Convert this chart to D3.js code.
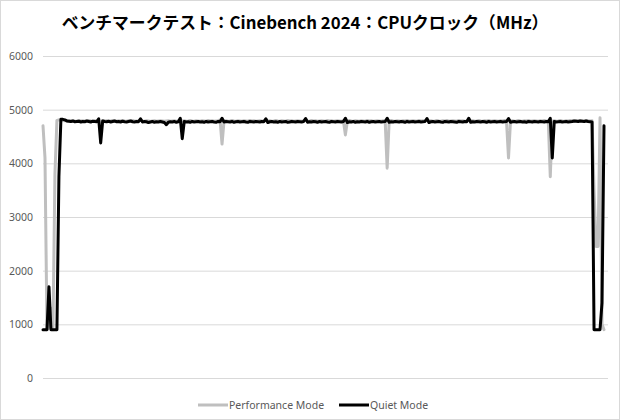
<!DOCTYPE html>
<html><head><meta charset="utf-8">
<script src="https://cdn.jsdelivr.net/npm/d3@7"></script>
<style>
html,body{margin:0;padding:0;background:#fff;}
svg{display:block;}
</style></head>
<body>
<svg id="chart" width="620" height="420"></svg>
<script>
const chartTitle = "ベンチマークテスト：Cinebench 2024：CPUクロック（MHz）";
const seriesNames = ["Performance Mode", "Quiet Mode"];
const yTicks = [0, 1000, 2000, 3000, 4000, 5000, 6000];

const performanceMode = [
4700,4100,900,950,1300,900,3800,4800,4810,4800,
4800,4795,4790,4800,4790,4795,4785,4790,4800,4790,
4795,4790,4785,4800,4790,4785,4795,4790,4810,4600,
4800,4790,4795,4785,4790,4800,4790,4785,4795,4790,
4800,4790,4785,4795,4790,4800,4785,4790,4795,4810,
4790,4785,4795,4790,4780,4790,4795,4785,4790,4795,
4790,4785,4790,4795,4785,4790,4795,4785,4790,4810,
4790,4795,4785,4790,4800,4790,4785,4795,4790,4785,
4795,4790,4785,4800,4790,4795,4785,4790,4795,4810,
4360,4790,4795,4785,4790,4800,4790,4785,4795,4790,
4785,4795,4790,4785,4800,4790,4795,4785,4790,4795,
4790,4785,4815,4790,4795,4785,4790,4800,4790,4785,
4795,4790,4785,4800,4790,4795,4785,4790,4795,4790,
4785,4795,4815,4790,4785,4800,4790,4795,4785,4790,
4795,4790,4785,4800,4790,4795,4785,4790,4795,4790,
4785,4795,4530,4790,4800,4790,4785,4795,4790,4785,
4795,4790,4785,4800,4790,4795,4785,4790,4795,4790,
4785,4795,4790,3910,4790,4800,4790,4785,4795,4790,
4785,4795,4790,4800,4785,4790,4795,4790,4785,4800,
4790,4795,4785,4815,4790,4795,4785,4790,4800,4790,
4785,4795,4790,4800,4785,4790,4795,4790,4785,4800,
4790,4795,4785,4790,4815,4790,4795,4785,4790,4800,
4790,4785,4795,4790,4800,4785,4790,4795,4790,4785,
4795,4790,4800,4785,4100,4790,4795,4785,4790,4800,
4790,4785,4795,4790,4800,4785,4790,4795,4790,4785,
4795,4790,4800,4785,4790,3750,4790,4795,4785,4790,
4800,4790,4785,4795,4790,4800,4795,4790,4800,4795,
4800,4795,4790,4800,4795,4790,4795,3500,2450,2450,
4850,1000,900
];

const quietMode = [
900,900,900,1700,900,900,900,900,3750,4820,
4820,4810,4790,4785,4780,4790,4775,4780,4785,4770,
4780,4775,4790,4780,4770,4785,4780,4775,4830,4380,
4790,4780,4775,4785,4770,4780,4790,4775,4780,4770,
4785,4775,4770,4780,4790,4775,4770,4780,4775,4830,
4770,4780,4775,4760,4770,4780,4765,4775,4770,4780,
4770,4760,4720,4765,4775,4770,4780,4765,4775,4840,
4460,4780,4770,4775,4765,4780,4770,4775,4780,4770,
4775,4765,4780,4770,4775,4780,4770,4765,4780,4775,
4840,4770,4780,4775,4770,4780,4765,4775,4780,4770,
4775,4780,4770,4765,4780,4775,4770,4780,4775,4770,
4780,4775,4830,4760,4775,4780,4770,4775,4765,4780,
4770,4775,4780,4765,4770,4780,4775,4770,4780,4775,
4770,4780,4835,4765,4775,4770,4780,4775,4765,4780,
4770,4775,4780,4770,4765,4780,4775,4770,4780,4775,
4770,4780,4840,4760,4775,4770,4780,4765,4775,4770,
4780,4775,4770,4780,4765,4775,4780,4770,4775,4780,
4770,4775,4780,4840,4765,4775,4770,4780,4775,4770,
4780,4775,4765,4780,4770,4775,4780,4770,4775,4780,
4770,4775,4780,4835,4760,4775,4780,4770,4775,4780,
4770,4765,4780,4775,4770,4780,4775,4770,4765,4780,
4775,4770,4780,4775,4840,4765,4775,4770,4780,4775,
4770,4780,4775,4765,4780,4770,4775,4780,4770,4775,
4780,4770,4775,4780,4835,4765,4775,4780,4770,4775,
4780,4770,4775,4765,4780,4775,4770,4780,4775,4770,
4780,4775,4770,4780,4775,4840,4100,4780,4770,4775,
4780,4770,4775,4780,4770,4775,4780,4790,4785,4780,
4790,4785,4780,4790,4780,4775,4770,900,900,900,
900,1400,4700
];

const colors = ["#bfbfbf", "#000000"];
const svg = d3.select("#chart");
const W = 620, H = 420;
const m = {left: 43, right: 12, top: 56, bottom: 42};

svg.append("rect").attr("x",0.5).attr("y",0.5).attr("width",W-1).attr("height",H-1)
  .attr("fill","#fff").attr("stroke","#d9d9d9");

const x = d3.scaleLinear().domain([0, quietMode.length - 1]).range([m.left, W - m.right - 4]);
const y = d3.scaleLinear().domain([0, 6000]).range([H - m.bottom, m.top]);

const yAxis = d3.axisLeft(y).tickValues(yTicks).tickFormat(d3.format("d"))
  .tickSize(-(W - m.left - m.right)).tickPadding(10);
const ga = svg.append("g").attr("transform", `translate(${m.left},0)`).call(yAxis);
ga.select(".domain").remove();
ga.selectAll(".tick line").attr("stroke", "#d9d9d9").attr("stroke-width", 1);
ga.selectAll(".tick text").attr("fill", "#595959")
  .style("font-family", "'Noto Sans', sans-serif").style("font-size", "10.5px");

svg.append("text").attr("x", 305).attr("y", 29).attr("text-anchor", "middle")
  .style("font-family", "'Noto Sans CJK JP', sans-serif").style("font-weight", "bold")
  .style("font-size", "16.8px").attr("fill", "#000").text(chartTitle);

const line = d3.line().x((d, i) => x(i)).y(d => y(d)).curve(d3.curveLinear);
[performanceMode, quietMode].forEach((s, k) => {
  svg.append("path").datum(s).attr("d", line).attr("fill", "none")
    .attr("stroke", colors[k]).attr("stroke-width", 3).attr("stroke-linejoin", "round")
    .attr("stroke-linecap", "round");
});

const leg = [{x: 198}, {x: 339}];
seriesNames.forEach((n, k) => {
  const g = svg.append("g").attr("transform", `translate(${leg[k].x},405)`);
  g.append("line").attr("x1", 0).attr("x2", 30).attr("y1", 0).attr("y2", 0)
    .attr("stroke", colors[k]).attr("stroke-width", 3);
  g.append("text").attr("x", 31).attr("y", 4).attr("fill", "#595959")
    .style("font-family", "'Noto Sans', sans-serif").style("font-size", "10.5px").text(n);
});
</script>
</body></html>
